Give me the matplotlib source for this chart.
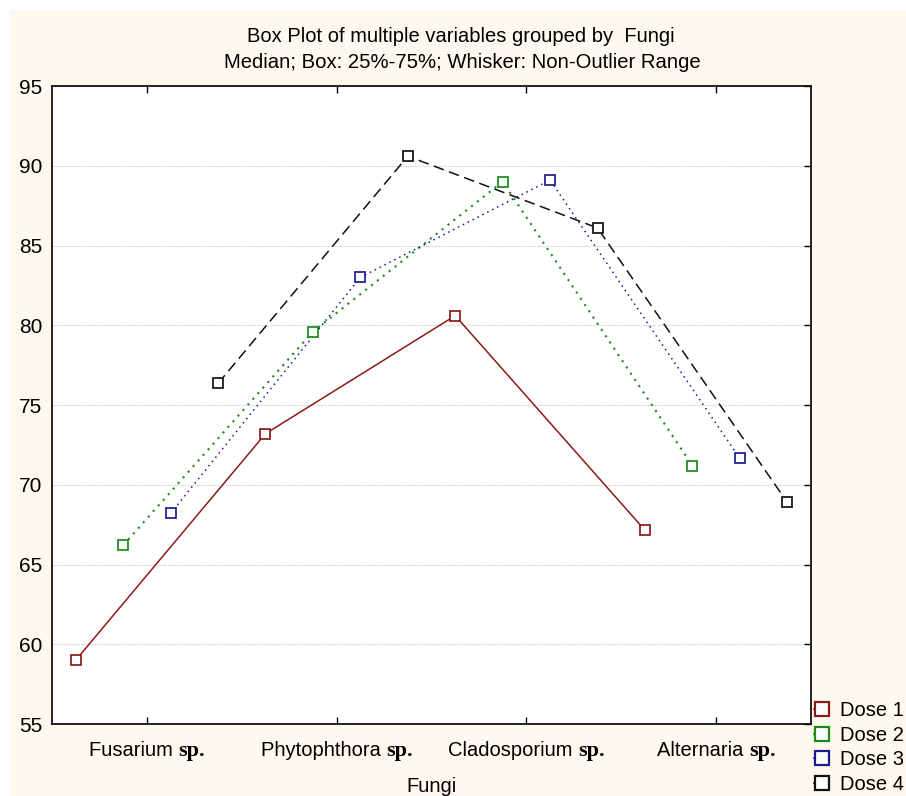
import matplotlib
matplotlib.use("Agg")
import matplotlib.pyplot as plt
from matplotlib.lines import Line2D
from matplotlib.patches import Rectangle
from matplotlib.offsetbox import TextArea, HPacker, AnnotationBbox
import numpy as np

# ---- data ----
fungi_names = ["Fusarium", "Phytophthora", "Cladosporium", "Alternaria"]
fungi_suffix = "sp."
dose_labels = ["Dose 1", "Dose 2", "Dose 3", "Dose 4"]
dose1 = [59.0, 73.2, 80.6, 67.15]
dose2 = [66.2, 79.6, 89.0, 71.2]
dose3 = [68.2, 83.0, 89.1, 71.65]
dose4 = [76.35, 90.6, 86.1, 68.9]
y_ticks = [55, 60, 65, 70, 75, 80, 85, 90, 95]

series = [dose1, dose2, dose3, dose4]
colors = ["#8b1a1a", "#1a8a1a", "#1a1a90", "#111111"]
styles = ["-", (0, (1.0, 2.6)), (0, (1.0, 2.6)), (0, (7.0, 3.6))]
widths = [1.1, 1.5, 1.1, 1.1]
offsets = [-0.375, -0.125, 0.125, 0.375]

plt.rcParams["font.family"] = ["Liberation Sans", "DejaVu Sans"]

W, H = 906, 796
fig = plt.figure(figsize=(W / 100, H / 100), dpi=100, facecolor="white")
cream = "#fef9ef"
fig.patches.append(Rectangle((10 / W, 0), 1 - 10 / W, 1 - 10 / H,
                             transform=fig.transFigure, facecolor=cream,
                             edgecolor="none", zorder=-10))

ax = fig.add_axes([52 / W, 1 - 724 / H, (811 - 52) / W, (724 - 86) / H])
ax.set_facecolor("white")

x = np.arange(len(fungi_names))
handles = []
for vals, c, ls, lw, off, lab in zip(series, colors, styles, widths, offsets, dose_labels):
    ax.plot(x + off, vals, color=c, linestyle=ls, linewidth=lw, zorder=3)
    ax.plot(x + off, vals, linestyle="none", marker="s", markersize=7.6,
            markerfacecolor="white", markeredgecolor=c, markeredgewidth=1.25, zorder=4)
    handles.append(Line2D([], [], color=c, linestyle="-", linewidth=1.2, marker="s",
                          markersize=9.5, markerfacecolor="white",
                          markeredgecolor=c, markeredgewidth=1.6, label=lab))

ax.set_xlim(-0.5, 3.5)
ax.set_ylim(55, 95)
ax.set_yticks(y_ticks)
ax.set_xticks(x)
ax.set_xticklabels([])
ax.yaxis.grid(True, linestyle=(0, (1, 1)), color="#c8c8c8", linewidth=0.8)
ax.set_axisbelow(True)

ax.tick_params(axis="y", left=False, right=True, labelleft=True, labelright=False,
               direction="in", length=5, width=1, pad=7, labelsize=15, colors="black")
ax.tick_params(axis="x", bottom=True, top=True, direction="in", length=5, width=1,
               labelbottom=False)
for s in ax.spines.values():
    s.set_linewidth(1.3)
    s.set_color("#111111")

# x tick labels with mixed fonts
for i, name in enumerate(fungi_names):
    ta1 = TextArea(name + " ", textprops=dict(fontsize=14.5, family=["Liberation Sans"]))
    ta2 = TextArea(fungi_suffix, textprops=dict(fontsize=16, family=["Liberation Serif"],
                                                 weight="bold"))
    pack = HPacker(children=[ta1, ta2], align="baseline", pad=0, sep=0)
    ab = AnnotationBbox(pack, (i, 0), xycoords=ax.get_xaxis_transform(),
                        xybox=(0, -27 * 0.72), boxcoords="offset points",
                        box_alignment=(0.5, 0.5), frameon=False,
                        annotation_clip=False)
    ax.add_artist(ab)

fig.text(431 / W, 1 - 787 / H, "Fungi", ha="center", va="center", fontsize=14.5)
fig.text(461 / W, 1 - 37 / H, "Box Plot of multiple variables grouped by  Fungi",
         ha="center", va="center", fontsize=14.5)
fig.text(462 / W, 1 - 62 / H, "Median; Box: 25%-75%; Whisker: Non-Outlier Range",
         ha="center", va="center", fontsize=14.6)

fig.legend(handles=handles, loc="upper left", bbox_to_anchor=(814 / W, 1 - 701 / H),
           frameon=False, fontsize=14.5, handlelength=0.75, handletextpad=0.55,
           borderpad=0, borderaxespad=0, labelspacing=0.28)

fig.savefig("out.png", dpi=100, facecolor=fig.get_facecolor())
